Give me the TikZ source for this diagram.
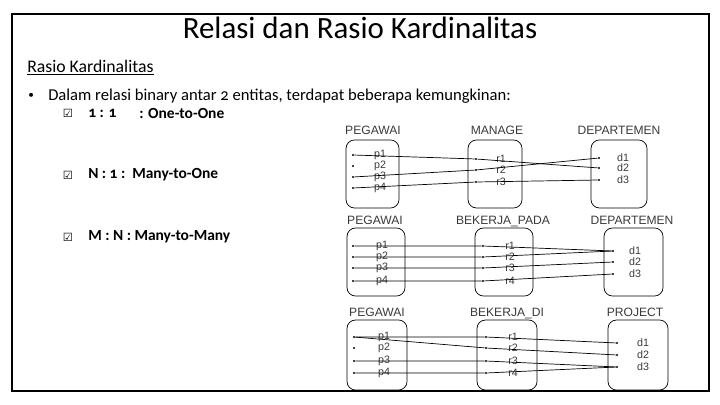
\documentclass[tikz,border=0pt]{standalone}
\usepackage{fontspec}
\setmainfont{Carlito}[Numbers=OldStyle]
\newfontfamily\diafont{Liberation Sans}
\newfontfamily\symfont{DejaVu Sans}
\definecolor{diagray}{HTML}{3A3A3A}
\tikzset{
	dot/.style={circle, fill=black, inner sep=0pt, minimum size=1.6pt},
	entity/.style={draw=black, rounded corners=6pt, line width=0.5pt},
	enttitle/.style={font=\diafont\fontsize{8.6}{10}\selectfont, text=diagray, inner sep=0pt, anchor=base},
	item/.style={font=\diafont\fontsize{7.6}{9}\selectfont, text=diagray, inner sep=0pt},
	link/.style={line width=0.5pt, black},
	slide/.style={anchor=west, inner sep=0pt, font=\fontsize{11.8}{14}\selectfont},
	choice/.style={anchor=west, inner sep=0pt, font=\bfseries\fontsize{11}{13}\selectfont},
	tick/.style={anchor=center, inner sep=0pt, font=\symfont\fontsize{8}{9}\selectfont}
}
\begin{document}
\begin{tikzpicture}[x=0.025cm, y=-0.025cm]
			%%%%% FRAME %%%%%
			\useasboundingbox (0, 0) rectangle (720, 405);
			\draw[line width=2.1pt] (12, 14) rectangle (709, 391);
			
			%%%%% TEXT %%%%%
			\node[inner sep=0pt, font=\fontsize{22}{26}\selectfont] (title) at (360, 28) {Relasi dan Rasio Kardinalitas};
			\node[slide, font=\fontsize{12.6}{15}\selectfont] (sub) at (27, 68) {\underline{Rasio Kardinalitas}};
			\node[slide, font=\fontsize{8}{9}\selectfont] (bul) at (28, 96) {\textbullet};
			\node[slide] (intro) at (48, 96) {Dalam relasi binary antar 2 entitas, terdapat beberapa kemungkinan:};
			
			\node[tick] (c1) at (68, 113) {☑};
			\node[choice] (one) at (88, 113) {1 : 1};
			\node[choice] (oneone) at (139, 113) {: One-to-One};
			\node[tick] (c2) at (68, 175) {☑};
			\node[choice] (manyone) at (88, 175) {N : 1 :\ \ Many-to-One};
			\node[tick] (c3) at (68, 237) {☑};
			\node[choice] (manymany) at (88, 237) {M : N : Many-to-Many};
			
			%%%%% 1 : 1 %%%%%
			\node[enttitle] at (373, 135) {PEGAWAI};
			\node[enttitle] at (497, 135) {MANAGE};
			\node[enttitle] at (619, 135) {DEPARTEMEN};
			\draw[entity] (346, 140) rectangle (399, 208);
			\draw[entity] (468, 140) rectangle (522, 208);
			\draw[entity] (591, 140) rectangle (647, 208);
			
			\node[dot] (ap1) at (353, 155) {};
			\node[dot] (ap2) at (353, 166) {};
			\node[dot] (ap3) at (353, 177) {};
			\node[dot] (ap4) at (353, 188) {};
			\node[item] at (380, 155) {p1};
			\node[item] at (380, 166) {p2};
			\node[item] at (380, 177) {p3};
			\node[item] at (380, 188) {p4};
			
			\node[dot] (ar1) at (476, 159) {};
			\node[dot] (ar2) at (476, 170) {};
			\node[dot] (ar3) at (476, 182) {};
			\node[item] at (501, 159) {r1};
			\node[item] at (501, 170) {r2};
			\node[item] at (501, 182) {r3};
			
			\node[dot] (ad1) at (599, 158) {};
			\node[dot] (ad2) at (599, 168) {};
			\node[dot] (ad3) at (599, 180) {};
			\node[item] at (623, 158) {d1};
			\node[item] at (623, 168) {d2};
			\node[item] at (623, 180) {d3};
			
			\draw[link] (ap1) -- (ar1) -- (ad2);
			\draw[link] (ap3) -- (ar2) -- (ad1);
			\draw[link] (ap4) -- (ar3) -- (ad3);
			
			%%%%% N : 1 %%%%%
			\node[enttitle] at (375, 225) {PEGAWAI};
			\node[enttitle] at (503, 225) {BEKERJA\_PADA};
			\node[enttitle] at (632, 225) {DEPARTEMEN};
			\draw[entity] (347, 228) rectangle (405, 296);
			\draw[entity] (475, 228) rectangle (533, 296);
			\draw[entity] (604, 228) rectangle (663, 296);
			
			\node[dot] (bp1) at (353, 246) {};
			\node[dot] (bp2) at (353, 257) {};
			\node[dot] (bp3) at (353, 268) {};
			\node[dot] (bp4) at (353, 281) {};
			\node[item] at (382, 246) {p1};
			\node[item] at (382, 257) {p2};
			\node[item] at (382, 268) {p3};
			\node[item] at (382, 281) {p4};
			
			\node[dot] (br1) at (483, 246) {};
			\node[dot] (br2) at (483, 257) {};
			\node[dot] (br3) at (483, 268) {};
			\node[dot] (br4) at (483, 281) {};
			\node[item] at (510, 246) {r1};
			\node[item] at (510, 257) {r2};
			\node[item] at (510, 268) {r3};
			\node[item] at (510, 281) {r4};
			
			\node[dot] (bd1) at (613, 251) {};
			\node[dot] (bd2) at (613, 262) {};
			\node[dot] (bd3) at (613, 274) {};
			\node[item] at (635, 251) {d1};
			\node[item] at (635, 262) {d2};
			\node[item] at (635, 274) {d3};
			
			\draw[link] (bp1) -- (br1) -- (bd1);
			\draw[link] (bp2) -- (br2) -- (bd1);
			\draw[link] (bp3) -- (br3) -- (bd2);
			\draw[link] (bp4) -- (br4) -- (bd3);
			
			%%%%% M : N %%%%%
			\node[enttitle] at (377, 316) {PEGAWAI};
			\node[enttitle] at (507, 316) {BEKERJA\_DI};
			\node[enttitle] at (635, 316) {PROJECT};
			\draw[entity] (347, 320) rectangle (407, 390);
			\draw[entity] (477, 320) rectangle (537, 390);
			\draw[entity] (608, 320) rectangle (668, 390);
			
			\node[dot] (cp1) at (354, 337) {};
			\node[dot] (cp2) at (354, 348) {};
			\node[dot] (cp3) at (354, 361) {};
			\node[dot] (cp4) at (354, 373) {};
			\node[item] at (384, 337) {p1};
			\node[item] at (384, 348) {p2};
			\node[item] at (384, 361) {p3};
			\node[item] at (384, 373) {p4};
			
			\node[dot] (cr1) at (486, 337) {};
			\node[dot] (cr2) at (486, 348) {};
			\node[dot] (cr3) at (486, 361) {};
			\node[dot] (cr4) at (486, 373) {};
			\node[item] at (513, 337) {r1};
			\node[item] at (513, 348) {r2};
			\node[item] at (513, 361) {r3};
			\node[item] at (513, 373) {r4};
			
			\node[dot] (cd1) at (617, 343) {};
			\node[dot] (cd2) at (617, 355) {};
			\node[dot] (cd3) at (617, 367) {};
			\node[item] at (643, 343) {d1};
			\node[item] at (643, 355) {d2};
			\node[item] at (643, 367) {d3};
			
			\draw[link] (cp1) -- (cr1) -- (cd1);
			\draw[link] (cp1) -- (cr2) -- (cd2);
			\draw[link] (cp3) -- (cr3) -- (cd3);
			\draw[link] (cp4) -- (cr4) -- (cd3);
			
			%%%%% END %%%%%
\end{tikzpicture}
\end{document}
